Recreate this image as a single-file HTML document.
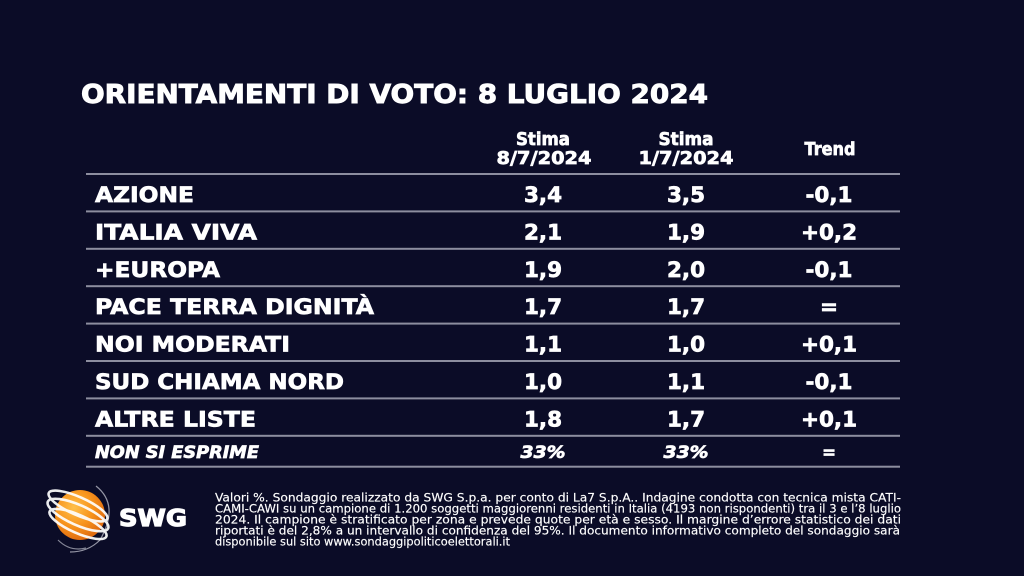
<!DOCTYPE html>
<html>
<head>
<meta charset="utf-8">
<style>
  html, body { margin: 0; padding: 0; background: #0b0c27; }
  body { width: 1024px; height: 576px; overflow: hidden; }
  svg { display: block; }
  .b { font-family: "DejaVu Sans", "Liberation Sans", sans-serif; font-weight: bold; fill: #ffffff; stroke: #ffffff; stroke-width: 0.7px; }
  .f { font-family: "DejaVu Sans", "Liberation Sans", sans-serif; fill: #ffffff; font-size: 11.5px; stroke: #ffffff; stroke-width: 0.15px; }
</style>
</head>
<body>
<svg width="1024" height="576" viewBox="0 0 1024 576" xmlns="http://www.w3.org/2000/svg">
  <defs>
    <radialGradient id="sph" cx="0.38" cy="0.35" r="0.75">
      <stop offset="0" stop-color="#ffc04a"/>
      <stop offset="0.5" stop-color="#f7931c"/>
      <stop offset="1" stop-color="#d9600c"/>
    </radialGradient>
  </defs>
  <rect x="0" y="0" width="1024" height="576" fill="#0b0c27"/>

  <!-- Title -->
  <text class="b" x="81" y="103" font-size="26" style="stroke-width:0.9px" textLength="627" lengthAdjust="spacingAndGlyphs">ORIENTAMENTI DI VOTO: 8 LUGLIO 2024</text>

  <!-- Headers -->
  <text class="b" x="543" y="145" font-size="17.5" text-anchor="middle" textLength="54" lengthAdjust="spacingAndGlyphs">Stima</text>
  <text class="b" x="544" y="164" font-size="17.5" text-anchor="middle" textLength="95" lengthAdjust="spacingAndGlyphs">8/7/2024</text>
  <text class="b" x="686" y="145" font-size="17.5" text-anchor="middle" textLength="55" lengthAdjust="spacingAndGlyphs">Stima</text>
  <text class="b" x="686" y="164" font-size="17.5" text-anchor="middle" textLength="95" lengthAdjust="spacingAndGlyphs">1/7/2024</text>
  <text class="b" x="830" y="155" font-size="17.5" text-anchor="middle" textLength="51" lengthAdjust="spacingAndGlyphs">Trend</text>

  <!-- Lines -->
  <g fill="#8d8e9f">
    <rect x="86" y="173" width="814" height="2"/>
    <rect x="86" y="210.4" width="814" height="2"/>
    <rect x="86" y="247.8" width="814" height="2"/>
    <rect x="86" y="285.2" width="814" height="2"/>
    <rect x="86" y="322.6" width="814" height="2"/>
    <rect x="86" y="360" width="814" height="2"/>
    <rect x="86" y="397.4" width="814" height="2"/>
    <rect x="86" y="434.8" width="814" height="2"/>
    <rect x="86" y="465.7" width="814" height="2"/>
  </g>

  <!-- Rows -->
  <g class="b" font-size="21.5">
    <text x="95" y="202" textLength="99" lengthAdjust="spacingAndGlyphs">AZIONE</text>
    <text x="543" y="202" text-anchor="middle">3,4</text>
    <text x="686" y="202" text-anchor="middle">3,5</text>
    <text x="829" y="202" text-anchor="middle">-0,1</text>

    <text x="95" y="239.5" textLength="162" lengthAdjust="spacingAndGlyphs">ITALIA VIVA</text>
    <text x="543" y="239.5" text-anchor="middle">2,1</text>
    <text x="686" y="239.5" text-anchor="middle">1,9</text>
    <text x="829" y="239.5" text-anchor="middle">+0,2</text>

    <text x="95" y="277" textLength="125" lengthAdjust="spacingAndGlyphs">+EUROPA</text>
    <text x="543" y="277" text-anchor="middle">1,9</text>
    <text x="686" y="277" text-anchor="middle">2,0</text>
    <text x="829" y="277" text-anchor="middle">-0,1</text>

    <text x="95" y="314.2" textLength="279" lengthAdjust="spacingAndGlyphs">PACE TERRA DIGNITÀ</text>
    <text x="543" y="314.2" text-anchor="middle">1,7</text>
    <text x="686" y="314.2" text-anchor="middle">1,7</text>
    <text x="829" y="314.2" text-anchor="middle">=</text>

    <text x="95" y="351.6" textLength="195" lengthAdjust="spacingAndGlyphs">NOI MODERATI</text>
    <text x="543" y="351.6" text-anchor="middle">1,1</text>
    <text x="686" y="351.6" text-anchor="middle">1,0</text>
    <text x="829" y="351.6" text-anchor="middle">+0,1</text>

    <text x="95" y="389" textLength="249" lengthAdjust="spacingAndGlyphs">SUD CHIAMA NORD</text>
    <text x="543" y="389" text-anchor="middle">1,0</text>
    <text x="686" y="389" text-anchor="middle">1,1</text>
    <text x="829" y="389" text-anchor="middle">-0,1</text>

    <text x="95" y="426.4" textLength="161" lengthAdjust="spacingAndGlyphs">ALTRE LISTE</text>
    <text x="543" y="426.4" text-anchor="middle">1,8</text>
    <text x="686" y="426.4" text-anchor="middle">1,7</text>
    <text x="829" y="426.4" text-anchor="middle">+0,1</text>
  </g>
  <g class="b" font-size="16.5" font-style="italic">
    <text x="95" y="458" textLength="164" lengthAdjust="spacingAndGlyphs">NON SI ESPRIME</text>
    <text x="543" y="458" text-anchor="middle" textLength="45" lengthAdjust="spacingAndGlyphs">33%</text>
    <text x="686" y="458" text-anchor="middle" textLength="45" lengthAdjust="spacingAndGlyphs">33%</text>
  </g>
  <text class="b" x="829" y="458" font-size="16.5" text-anchor="middle">=</text>

  <!-- Logo -->
  <g>
    <path d="M96 486 Q120 505 100 540 Q88 552 70 552" fill="none" stroke="#b8b9c6" stroke-width="1.2" opacity="0.8"/>
    <circle cx="80" cy="515" r="25" fill="url(#sph)"/>
    <g fill="none" stroke="#ffffff" stroke-width="2.6" opacity="0.92">
      <ellipse cx="78" cy="506" rx="32" ry="9" transform="rotate(24 78 506)"/>
      <ellipse cx="78" cy="515" rx="33" ry="10" transform="rotate(24 78 515)"/>
      <ellipse cx="78" cy="524" rx="31" ry="9" transform="rotate(24 78 524)"/>
    </g>
    <path d="M58 540 Q70 552 86 548" fill="none" stroke="#b8b9c6" stroke-width="1.2" opacity="0.7"/>
    <text class="b" x="119" y="526" font-size="23.5" style="stroke-width:1.2px" textLength="68" lengthAdjust="spacingAndGlyphs">SWG</text>
  </g>

  <!-- Footer -->
  <g class="f">
    <text x="215" y="501.5" textLength="686" lengthAdjust="spacingAndGlyphs">Valori %. Sondaggio realizzato da SWG S.p.a. per conto di La7 S.p.A.. Indagine condotta con tecnica mista CATI-</text>
    <text x="215" y="512.5" textLength="686" lengthAdjust="spacingAndGlyphs">CAMI-CAWI su un campione di 1.200 soggetti maggiorenni residenti in Italia (4193 non rispondenti) tra il 3 e l’8 luglio</text>
    <text x="215" y="523.5" textLength="686" lengthAdjust="spacingAndGlyphs">2024. Il campione è stratificato per zona e prevede quote per età e sesso. Il margine d’errore statistico dei dati</text>
    <text x="215" y="534.5" textLength="685" lengthAdjust="spacingAndGlyphs">riportati è del 2,8% a un intervallo di confidenza del 95%. Il documento informativo completo del sondaggio sarà</text>
    <text x="215" y="545.5" textLength="295" lengthAdjust="spacingAndGlyphs">disponibile sul sito www.sondaggipoliticoelettorali.it</text>
  </g>
</svg>
</body>
</html>
